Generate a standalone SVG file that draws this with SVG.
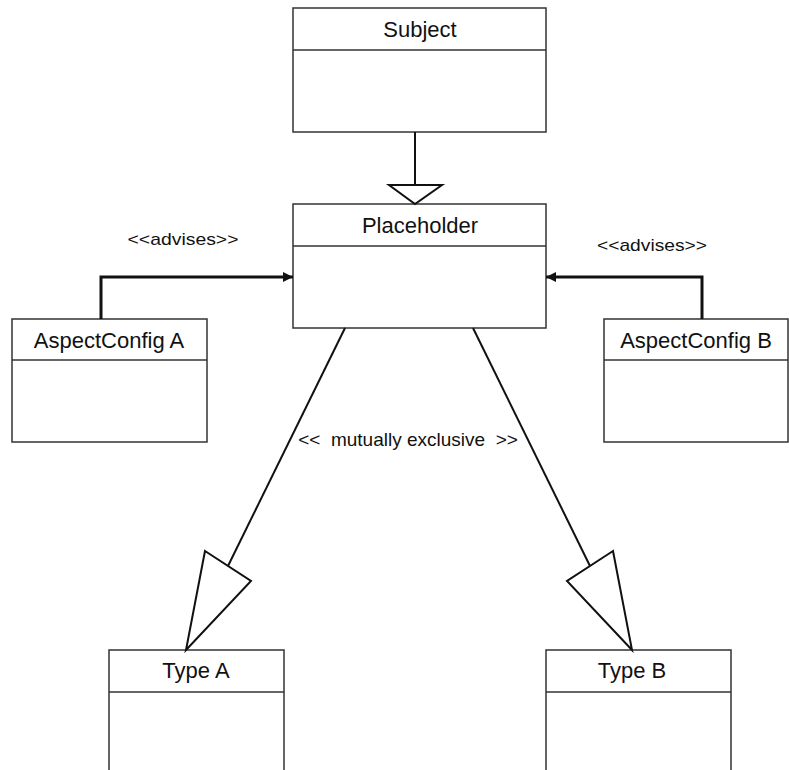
<svg xmlns="http://www.w3.org/2000/svg" width="789" height="770" viewBox="0 0 789 770">
  <style>
    .box { fill: #ffffff; stroke: #333333; stroke-width: 1.5; }
    .div { stroke: #333333; stroke-width: 1.5; }
    .title { font-family: "Liberation Sans", Arial, sans-serif; font-size: 22px; fill: #111111; text-anchor: middle; }
    .label { font-family: "Liberation Sans", Arial, sans-serif; font-size: 17px; fill: #111111; text-anchor: middle; }
    .gen { fill: #ffffff; stroke: #111111; stroke-width: 2; stroke-linejoin: miter; }
    .line { fill: none; stroke: #111111; stroke-width: 2; }
    .adv { fill: none; stroke: #111111; stroke-width: 3; }
  </style>
  <defs>
    <marker id="filled" viewBox="0 0 10 10" refX="10" refY="5" markerWidth="10" markerHeight="10" markerUnits="userSpaceOnUse" orient="auto">
      <path d="M0,0 L10,5 L0,10 z" fill="#111111"/>
    </marker>
  </defs>
  <rect width="789" height="770" fill="#ffffff"/>

  <g id="subject">
    <rect class="box" x="293" y="8" width="253" height="124"/>
    <line class="div" x1="293" y1="50" x2="546" y2="50"/>
    <text class="title" x="420" y="37">Subject</text>
  </g>

  <g id="placeholder">
    <rect class="box" x="293" y="204" width="253" height="124"/>
    <line class="div" x1="293" y1="246" x2="546" y2="246"/>
    <text class="title" x="420" y="233">Placeholder</text>
  </g>

  <g id="aspect-config-a">
    <rect class="box" x="12" y="319" width="195" height="123"/>
    <line class="div" x1="12" y1="360" x2="207" y2="360"/>
    <text class="title" x="109" y="348">AspectConfig A</text>
  </g>

  <g id="aspect-config-b">
    <rect class="box" x="604" y="319" width="184" height="123"/>
    <line class="div" x1="604" y1="360" x2="788" y2="360"/>
    <text class="title" x="696" y="348">AspectConfig B</text>
  </g>

  <g id="type-a">
    <rect class="box" x="109" y="650" width="175" height="130"/>
    <line class="div" x1="109" y1="692" x2="284" y2="692"/>
    <text class="title" x="196" y="678">Type A</text>
  </g>

  <g id="type-b">
    <rect class="box" x="546" y="650" width="185" height="130"/>
    <line class="div" x1="546" y1="692" x2="731" y2="692"/>
    <text class="title" x="632" y="678">Type B</text>
  </g>

  <g id="connectors">
    <!-- Placeholder generalises Subject -->
    <line class="line" x1="415" y1="132" x2="415" y2="185"/>
    <polygon class="gen" points="389,185 442,185 415,204"/>

    <!-- advises links -->
    <polyline class="adv" points="101,319 101,277 293,277" marker-end="url(#filled)"/>
    <polyline class="adv" points="702,319 702,277 546,277" marker-end="url(#filled)"/>
    <text class="label" x="183" y="245" textLength="111" lengthAdjust="spacingAndGlyphs">&lt;&lt;advises&gt;&gt;</text>
    <text class="label" x="652" y="251" textLength="110" lengthAdjust="spacingAndGlyphs">&lt;&lt;advises&gt;&gt;</text>

    <!-- Type A / Type B generalise Placeholder -->
    <line class="line" x1="345" y1="328" x2="228" y2="566"/>
    <polygon class="gen" points="205,551 251,581 186,650"/>
    <line class="line" x1="473" y1="328" x2="590" y2="566"/>
    <polygon class="gen" points="613,551 567,581 632,650"/>
    <text class="label" x="408" y="446" style="font-size:19px" xml:space="preserve">&lt;&lt;  mutually exclusive  &gt;&gt;</text>
  </g>
</svg>
